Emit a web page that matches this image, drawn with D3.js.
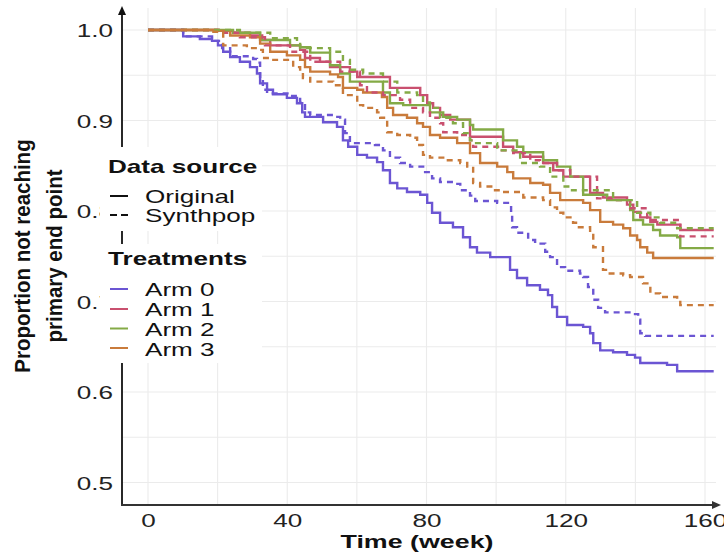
<!DOCTYPE html>
<html>
<head>
<meta charset="utf-8">
<script src="https://cdn.jsdelivr.net/npm/d3@7"></script>
<style>
  html, body { margin: 0; padding: 0; background: #ffffff; }
  svg { display: block; font-family: "Liberation Sans", Arial, Helvetica, sans-serif; }
</style>
</head>
<body>
<svg id="chart" width="724" height="557"></svg>
<script>
// Kaplan–Meier style curves: [week, proportion not reaching primary end point]
const arm0Original = [[0,1],[10.1,0.993],[14.9,0.990],[18.4,0.988],[20.1,0.983],[21.6,0.976],[23.6,0.970],[26.4,0.965],[29.3,0.959],[31.3,0.952],[32.2,0.941],[34.2,0.934],[35.9,0.929],[39.9,0.925],[42.8,0.919],[44.3,0.909],[45.1,0.904],[50.3,0.898],[54.3,0.893],[56.0,0.878],[57.5,0.871],[60.1,0.862],[62.9,0.859],[65.8,0.854],[67.5,0.845],[69.5,0.831],[71.6,0.825],[74.4,0.821],[78.2,0.818],[80.2,0.809],[81.6,0.798],[83.9,0.787],[87.6,0.782],[90.5,0.771],[92.5,0.760],[94.5,0.754],[98.3,0.749],[104.0,0.735],[106.0,0.726],[108.9,0.718],[112.6,0.713],[114.9,0.707],[116.1,0.694],[117.5,0.683],[120.4,0.674],[125.0,0.672],[127.0,0.665],[127.9,0.654],[129.9,0.646],[133.6,0.644],[137.6,0.641],[139.9,0.638],[141.4,0.632],[149.1,0.630],[152.0,0.623],[162.5,0.623]];
const arm0Synth = [[0,1],[10.1,0.993],[18.4,0.988],[21.3,0.980],[23.6,0.971],[30.2,0.968],[31.3,0.964],[32.2,0.947],[33.0,0.934],[34.2,0.930],[40.8,0.927],[43.7,0.920],[45.1,0.909],[46.6,0.906],[53.7,0.904],[55.2,0.901],[56.6,0.886],[58.0,0.875],[65.2,0.873],[67.5,0.867],[69.5,0.859],[72.4,0.853],[75.3,0.849],[79.6,0.843],[81.6,0.836],[83.9,0.832],[88.2,0.830],[89.7,0.823],[92.5,0.817],[94.0,0.811],[100.3,0.809],[104.0,0.807],[104.3,0.796],[104.6,0.782],[106.0,0.776],[109.2,0.768],[111.2,0.764],[114.1,0.755],[115.5,0.749],[117.5,0.738],[119.8,0.734],[124.1,0.731],[125.0,0.727],[126.4,0.716],[127.9,0.702],[129.3,0.693],[131.3,0.688],[139.9,0.686],[140.8,0.680],[141.4,0.665],[142.8,0.662],[162.5,0.662]];
const arm1Original = [[0,1],[20.1,0.999],[24.4,0.997],[29.3,0.994],[32.8,0.989],[35.1,0.983],[43.7,0.978],[45.1,0.969],[49.4,0.965],[52.3,0.959],[58.0,0.954],[60.1,0.948],[69.5,0.936],[78.2,0.928],[80.2,0.919],[81.9,0.914],[83.9,0.906],[86.8,0.901],[92.5,0.882],[102.0,0.871],[104.9,0.865],[107.8,0.860],[113.5,0.853],[116.4,0.845],[119.3,0.838],[127.0,0.820],[130.7,0.815],[137.6,0.807],[139.4,0.799],[141.4,0.793],[144.3,0.788],[146.3,0.785],[152.9,0.779],[162.5,0.779]];
const arm1Synth = [[0,1],[20.7,0.997],[26.4,0.992],[33.6,0.983],[40.8,0.976],[46.6,0.965],[55.2,0.954],[60.9,0.939],[62.9,0.931],[67.5,0.928],[72.4,0.923],[75.3,0.914],[79.0,0.909],[81.0,0.903],[83.9,0.897],[84.8,0.887],[88.8,0.884],[92.5,0.878],[93.4,0.871],[101.1,0.867],[104.9,0.864],[109.8,0.856],[112.6,0.853],[117.5,0.845],[121.3,0.838],[129.0,0.814],[133.6,0.812],[138.5,0.803],[143.4,0.790],[152.9,0.772],[162.5,0.772]];
const arm2Original = [[0,1],[24.4,0.997],[32.2,0.989],[40.8,0.983],[43.7,0.981],[46.6,0.975],[52.3,0.961],[55.2,0.952],[58.0,0.943],[67.5,0.931],[69.5,0.919],[73.3,0.917],[81.0,0.909],[84.8,0.904],[88.8,0.901],[92.5,0.895],[93.4,0.890],[102.0,0.878],[106.0,0.871],[107.8,0.865],[113.5,0.856],[117.5,0.849],[121.3,0.838],[125.0,0.818],[131.9,0.812],[138.5,0.801],[139.4,0.790],[142.2,0.785],[145.1,0.779],[147.1,0.773],[152.0,0.771],[152.9,0.759],[162.5,0.759]];
const arm2Synth = [[0,1],[26.4,0.997],[35.1,0.991],[42.8,0.987],[43.7,0.980],[52.3,0.976],[56.0,0.967],[58.0,0.956],[61.8,0.952],[67.5,0.943],[71.6,0.931],[77.3,0.928],[79.0,0.920],[81.0,0.914],[83.9,0.903],[87.6,0.897],[90.5,0.886],[92.5,0.878],[93.4,0.875],[100.3,0.867],[106.9,0.853],[112.6,0.849],[115.5,0.838],[119.3,0.827],[121.3,0.823],[133.6,0.812],[140.5,0.798],[144.3,0.793],[147.1,0.787],[152.0,0.781],[162.5,0.781]];
const arm3Original = [[0,1],[19.8,0.999],[23.6,0.994],[29.3,0.992],[32.2,0.985],[35.1,0.976],[39.9,0.972],[43.7,0.967],[45.1,0.959],[46.6,0.954],[52.3,0.951],[54.6,0.948],[56.0,0.936],[60.1,0.934],[61.8,0.931],[67.2,0.926],[68.7,0.914],[70.4,0.906],[74.4,0.903],[77.3,0.897],[79.0,0.893],[81.0,0.884],[83.9,0.881],[88.8,0.875],[92.5,0.864],[95.4,0.853],[100.3,0.849],[103.2,0.843],[104.9,0.836],[109.8,0.831],[113.5,0.829],[115.5,0.820],[118.4,0.812],[125.0,0.809],[127.0,0.801],[129.9,0.788],[133.6,0.785],[136.5,0.781],[138.5,0.773],[140.5,0.768],[141.4,0.760],[143.4,0.754],[145.1,0.748],[162.5,0.748]];
const arm3Synth = [[0,1],[17.8,0.998],[21.6,0.983],[28.4,0.980],[31.3,0.978],[33.0,0.969],[35.1,0.967],[41.7,0.959],[43.7,0.954],[44.5,0.947],[46.6,0.943],[53.2,0.939],[56.0,0.928],[60.1,0.917],[61.8,0.914],[65.8,0.909],[66.7,0.903],[68.7,0.887],[71.6,0.884],[75.3,0.881],[77.3,0.873],[79.0,0.862],[81.0,0.859],[84.8,0.856],[89.7,0.853],[91.7,0.849],[93.4,0.831],[95.4,0.827],[99.1,0.823],[101.1,0.821],[107.8,0.815],[113.5,0.812],[115.5,0.804],[117.5,0.798],[119.3,0.793],[122.1,0.787],[123.3,0.782],[127.0,0.776],[127.9,0.760],[130.7,0.735],[131.9,0.731],[136.5,0.729],[138.5,0.727],[142.2,0.720],[144.3,0.709],[147.1,0.705],[152.0,0.702],[152.9,0.696],[162.5,0.696]];

const treatments = ["Arm 0", "Arm 1", "Arm 2", "Arm 3"];
const armColors = ["#6b55d3", "#c9506f", "#84aa46", "#c97b3b"];
const dataSources = ["Original", "Synthpop"];
const xTicks = [0, 40, 80, 120, 160];
const xGrid = [0, 20, 40, 60, 80, 100, 120, 140, 160];
const yTicks = [0.5, 0.6, 0.7, 0.8, 0.9, 1.0];
const yGrid = [0.5, 0.55, 0.6, 0.65, 0.7, 0.75, 0.8, 0.85, 0.9, 0.95, 1.0];

const series = [
  { arm: 0, source: 0, values: arm0Original },
  { arm: 1, source: 0, values: arm1Original },
  { arm: 2, source: 0, values: arm2Original },
  { arm: 3, source: 0, values: arm3Original },
  { arm: 0, source: 1, values: arm0Synth },
  { arm: 1, source: 1, values: arm1Synth },
  { arm: 2, source: 1, values: arm2Synth },
  { arm: 3, source: 1, values: arm3Synth }
];

const svg = d3.select("#chart");
const panel = { left: 122, right: 717, top: 8, bottom: 505 };
const TEXT_SX = 1.45;   // wide glyph rendering used throughout the figure
const FONT = 18;

const x = d3.scaleLinear().domain([0, 160]).range([148, 705]);
const y = d3.scaleLinear().domain([0.5, 1.0]).range([482.5, 30]);

// grid
const grid = svg.append("g").attr("stroke", "#ebebeb").attr("stroke-width", 1.1);
grid.selectAll("line.v").data(xGrid).join("line")
  .attr("x1", d => x(d)).attr("x2", d => x(d))
  .attr("y1", panel.top).attr("y2", panel.bottom);
grid.selectAll("line.h").data(yGrid).join("line")
  .attr("x1", panel.left).attr("x2", panel.right - 1)
  .attr("y1", d => y(d)).attr("y2", d => y(d));

// curves
const line = d3.line()
  .x(d => x(d[0]))
  .y(d => y(d[1]))
  .curve(d3.curveStepAfter);

svg.append("g").selectAll("path").data(series).join("path")
  .attr("d", d => line(d.values))
  .attr("fill", "none")
  .attr("stroke", d => armColors[d.arm])
  .attr("stroke-width", 2.4)
  .attr("stroke-dasharray", d => d.source === 1 ? "6,5" : null)
  .attr("stroke-linejoin", "miter");

// axes (tick labels only; axis lines drawn with arrows below)
const styleTickText = (sel, tx, ty, anchor) => {
  sel.selectAll("text")
    .attr("x", null).attr("y", null).attr("dy", null)
    .attr("text-anchor", anchor)
    .attr("transform", `translate(${tx},${ty}) scale(${TEXT_SX},1)`)
    .attr("fill", "#222")
    .style("font-size", FONT + "px")
    .style("font-family", "'Liberation Sans', Arial, sans-serif");
  sel.select(".domain").remove();
  sel.selectAll(".tick line").remove();
};

const yAxisG = svg.append("g").attr("transform", `translate(${panel.left},0)`)
  .call(d3.axisLeft(y).tickValues(yTicks).tickFormat(d3.format(".1f")).tickSize(0));
styleTickText(yAxisG, -9, 6.5, "end");

const xAxisG = svg.append("g").attr("transform", `translate(0,${panel.bottom})`)
  .call(d3.axisBottom(x).tickValues(xTicks).tickFormat(d3.format("d")).tickSize(0));
styleTickText(xAxisG, 0, 22, "middle");

// axis lines with arrow heads
const axes = svg.append("g");
axes.append("line")
  .attr("x1", panel.left).attr("x2", panel.left)
  .attr("y1", panel.bottom + 1).attr("y2", panel.top + 4)
  .attr("stroke", "#111").attr("stroke-width", 1.8);
axes.append("path")
  .attr("d", `M${panel.left},${panel.top - 2} L${panel.left - 4},${panel.top + 7} L${panel.left + 4},${panel.top + 7} Z`)
  .attr("fill", "#111");
axes.append("line")
  .attr("x1", panel.left - 1).attr("x2", panel.right - 2)
  .attr("y1", panel.bottom).attr("y2", panel.bottom)
  .attr("stroke", "#333").attr("stroke-width", 1.8);
axes.append("path")
  .attr("d", `M${panel.right + 4},${panel.bottom} L${panel.right - 5},${panel.bottom - 4} L${panel.right - 5},${panel.bottom + 4} Z`)
  .attr("fill", "#333");

// text helper
function label(g, str, tx, ty, opts = {}) {
  return g.append("text")
    .attr("transform", `translate(${tx},${ty}) scale(${opts.sx ?? TEXT_SX},${opts.sy ?? 1})`)
    .attr("text-anchor", opts.anchor || "start")
    .attr("fill", opts.fill || "#111")
    .style("font-size", (opts.size || FONT) + "px")
    .style("font-weight", opts.bold ? "bold" : "normal")
    .text(str);
}

// axis titles
const titles = svg.append("g");
label(titles, "Time (week)", 417, 548, { bold: true, anchor: "middle", size: 18.5 });
const yTitle = titles.append("g").attr("transform", "translate(0,256)");
yTitle.append("text")
  .attr("transform", "translate(30,0) rotate(-90) scale(1,1.12)")
  .attr("text-anchor", "middle").attr("fill", "#111")
  .style("font-size", "20.5px").style("font-weight", "bold")
  .text("Proportion not reaching");
yTitle.append("text")
  .attr("transform", "translate(62,0) rotate(-90) scale(1,1.12)")
  .attr("text-anchor", "middle").attr("fill", "#111")
  .style("font-size", "20.5px").style("font-weight", "bold")
  .text("primary end point");

// legends
const legend = svg.append("g");
legend.append("rect").attr("x", 100).attr("y", 147).attr("width", 162).attr("height", 84).attr("fill", "#fff");
legend.append("rect").attr("x", 100).attr("y", 244).attr("width", 162).attr("height", 119).attr("fill", "#fff");

label(legend, "Data source", 108, 173, { bold: true });
const srcKeyY = [196, 215];
const srcBase = [203, 222];
dataSources.forEach((s, i) => {
  legend.append("line")
    .attr("x1", 110).attr("x2", 128)
    .attr("y1", srcKeyY[i]).attr("y2", srcKeyY[i])
    .attr("stroke", "#111").attr("stroke-width", 2)
    .attr("stroke-dasharray", i === 1 ? "7,4" : null);
  label(legend, s, 145, srcBase[i]);
});

label(legend, "Treatments", 108, 265, { bold: true });
const armKeyY = [289, 309, 328.5, 348];
const armBase = [296, 316, 336, 356];
treatments.forEach((t, i) => {
  legend.append("line")
    .attr("x1", 110).attr("x2", 128)
    .attr("y1", armKeyY[i]).attr("y2", armKeyY[i])
    .attr("stroke", armColors[i]).attr("stroke-width", 2);
  label(legend, t, 145, armBase[i]);
});
</script>
</body>
</html>
